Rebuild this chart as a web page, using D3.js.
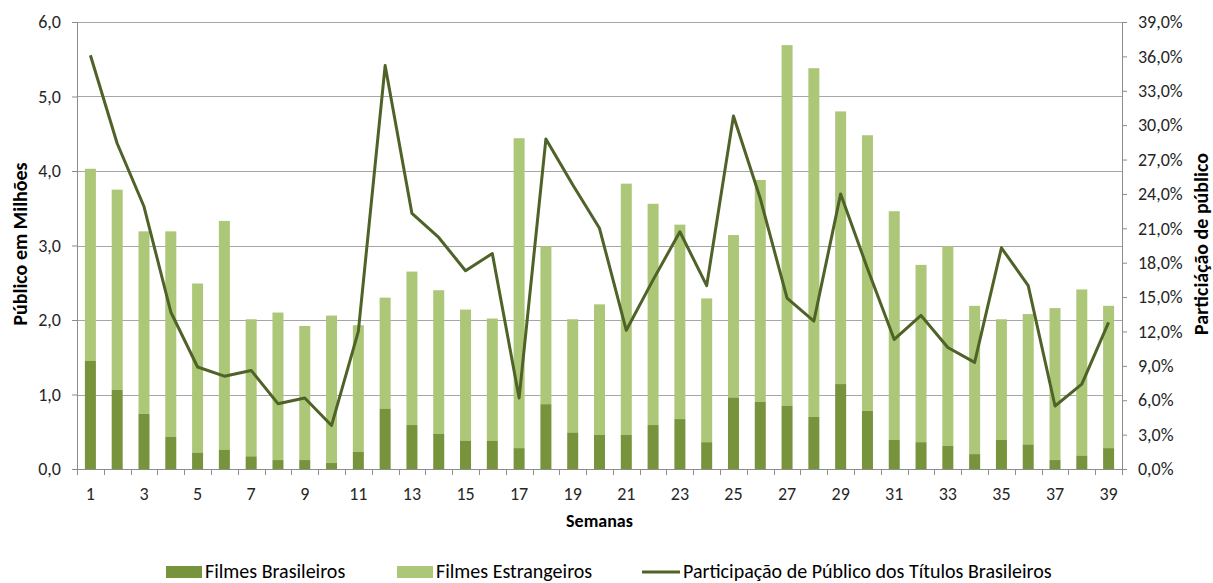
<!DOCTYPE html>
<html>
<head>
<meta charset="utf-8">
<script src="https://cdn.jsdelivr.net/npm/d3@7"></script>
<style>
  body { margin: 0; background: #fff; }
  text { font-family: Carlito, Calibri, "Liberation Sans", sans-serif; fill: #262626; }
</style>
</head>
<body>
<div id="chart"></div>
<script>
// weeks 1..39
const semanas = d3.range(1, 40).map(String);

// audience in millions
const brasileiros = [1.45, 1.06, 0.74, 0.43, 0.22, 0.26, 0.17, 0.12, 0.12, 0.08,
  0.23, 0.81, 0.59, 0.47, 0.38, 0.38, 0.28, 0.87, 0.49, 0.46,
  0.46, 0.59, 0.67, 0.36, 0.96, 0.90, 0.85, 0.70, 1.14, 0.78,
  0.39, 0.36, 0.31, 0.20, 0.39, 0.33, 0.12, 0.18, 0.28];
const estrangeiros = [2.58, 2.69, 2.45, 2.76, 2.27, 3.07, 1.84, 1.98, 1.80, 1.98,
  1.70, 1.49, 2.06, 1.93, 1.76, 1.64, 4.16, 2.12, 1.52, 1.75,
  3.37, 2.97, 2.61, 1.93, 2.18, 2.98, 4.84, 4.68, 3.66, 3.70,
  3.07, 2.38, 2.68, 1.99, 1.62, 1.75, 2.04, 2.23, 1.91];
// share of Brazilian titles (%)
const participacao = [36.1, 28.4, 22.9, 13.7, 8.9, 8.1, 8.6, 5.7, 6.2, 3.8,
  12.0, 35.2, 22.3, 20.2, 17.3, 18.8, 6.2, 28.8, 24.8, 21.0,
  12.1, 16.5, 20.7, 16.0, 30.8, 23.6, 14.9, 12.9, 24.0, 17.5,
  11.3, 13.4, 10.6, 9.3, 19.3, 16.0, 5.5, 7.4, 12.8];

const leftTicks = [0, 1, 2, 3, 4, 5, 6];
const rightTicks = d3.range(0, 40, 3);

const colorBr = '#77933c';
const colorEs = '#adc779';
const colorLine = '#4f6228';

const width = 1213, height = 583;
const margin = { top: 22, right: 91, bottom: 114, left: 77 };
const innerW = width - margin.left - margin.right;
const innerH = height - margin.top - margin.bottom;

const svg = d3.select('#chart').append('svg')
  .attr('width', width)
  .attr('height', height);

const g = svg.append('g')
  .attr('transform', `translate(${margin.left},${margin.top})`);

const x = d3.scaleBand().domain(semanas).range([0, innerW]).paddingInner(0);
const y = d3.scaleLinear().domain([0, 6]).range([innerH, 0]);
const y2 = d3.scaleLinear().domain([0, 39]).range([innerH, 0]);

// gridlines
g.append('g')
  .selectAll('line')
  .data(leftTicks.slice(1))
  .enter().append('line')
  .attr('x1', 0).attr('x2', innerW)
  .attr('y1', (d) => Math.round(y(d)) + 0.5)
  .attr('y2', (d) => Math.round(y(d)) + 0.5)
  .attr('stroke', '#a6a6a6')
  .attr('stroke-width', 1);

// bars
const barW = 11;
const stacked = semanas.map((s, i) => ({ s, br: brasileiros[i], es: estrangeiros[i] }));

g.append('g').selectAll('rect')
  .data(stacked)
  .enter().append('rect')
  .attr('x', (d) => x(d.s) + x.bandwidth() / 2 - barW / 2)
  .attr('y', (d) => y(d.br + d.es))
  .attr('width', barW)
  .attr('height', (d) => y(d.br) - y(d.br + d.es))
  .attr('fill', colorEs);

g.append('g').selectAll('rect')
  .data(stacked)
  .enter().append('rect')
  .attr('x', (d) => x(d.s) + x.bandwidth() / 2 - barW / 2)
  .attr('y', (d) => y(d.br))
  .attr('width', barW)
  .attr('height', (d) => innerH - y(d.br))
  .attr('fill', colorBr);

// line
const line = d3.line()
  .x((d, i) => x(semanas[i]) + x.bandwidth() / 2)
  .y((d) => y2(d));

g.append('path')
  .datum(participacao)
  .attr('d', line)
  .attr('fill', 'none')
  .attr('stroke', colorLine)
  .attr('stroke-width', 3)
  .attr('stroke-linejoin', 'round');

// left axis
const fmt1 = (d) => d3.format('.1f')(d).replace('.', ',');
const yAxis = g.append('g')
  .call(d3.axisLeft(y).tickValues(leftTicks).tickSize(5).tickPadding(11).tickFormat(fmt1));
yAxis.selectAll('text').style('font-size', '18px');

// right axis
const yAxis2 = g.append('g')
  .attr('transform', `translate(${innerW},0)`)
  .call(d3.axisRight(y2).tickValues(rightTicks).tickSize(5).tickPadding(11)
    .tickFormat((d) => `${fmt1(d)}%`));
yAxis2.selectAll('text').style('font-size', '18px');

// bottom axis, ticks between categories, labels every other week
const xAxis = g.append('g')
  .attr('transform', `translate(0,${innerH})`)
  .call(d3.axisBottom(x).tickSize(0).tickPadding(18)
    .tickFormat((d) => (+d % 2 === 1 ? d : '')));
xAxis.selectAll('text').style('font-size', '18px');
xAxis.append('g').selectAll('line')
  .data(d3.range(0, semanas.length + 1))
  .enter().append('line')
  .attr('x1', (d) => Math.round(d * x.step()) + 0.5)
  .attr('x2', (d) => Math.round(d * x.step()) + 0.5)
  .attr('y1', 0).attr('y2', 6)
  .attr('stroke', '#8c8c8c');

[yAxis, yAxis2, xAxis].forEach((a) => {
  a.selectAll('.domain, .tick line').attr('stroke', '#8c8c8c');
});

// axis titles
svg.append('text')
  .attr('transform', 'translate(27,244) rotate(-90)')
  .attr('text-anchor', 'middle')
  .style('font-size', '20px')
  .style('font-weight', 'bold')
  .style('fill', '#000')
  .text('Público em Milhões');

svg.append('text')
  .attr('transform', 'translate(1208,244) rotate(-90)')
  .attr('text-anchor', 'middle')
  .style('font-size', '20px')
  .style('font-weight', 'bold')
  .style('fill', '#000')
  .text('Particiáção de público');

svg.append('text')
  .attr('x', margin.left + innerW / 2)
  .attr('y', 527)
  .attr('text-anchor', 'middle')
  .style('font-size', '18px')
  .style('font-weight', 'bold')
  .style('fill', '#000')
  .text('Semanas');

// legend
const legend = svg.append('g').attr('transform', 'translate(0,571)');
const items = [
  { label: 'Filmes Brasileiros', color: colorBr, type: 'rect', x: 166 },
  { label: 'Filmes Estrangeiros', color: colorEs, type: 'rect', x: 397 },
  { label: 'Participação de Público dos Títulos Brasileiros', color: colorLine, type: 'line', x: 642 },
];
items.forEach((it) => {
  if (it.type === 'rect') {
    legend.append('rect')
      .attr('x', it.x).attr('y', -5).attr('width', 36).attr('height', 12)
      .attr('fill', it.color);
  } else {
    legend.append('line')
      .attr('x1', it.x).attr('x2', it.x + 38)
      .attr('y1', 1).attr('y2', 1)
      .attr('stroke', it.color).attr('stroke-width', 3);
  }
  legend.append('text')
    .attr('x', it.x + (it.type === 'rect' ? 39 : 41))
    .attr('y', 0)
    .attr('dy', '0.35em')
    .style('font-size', '20px')
    .style('fill', '#000')
    .text(it.label);
});
</script>
</body>
</html>
